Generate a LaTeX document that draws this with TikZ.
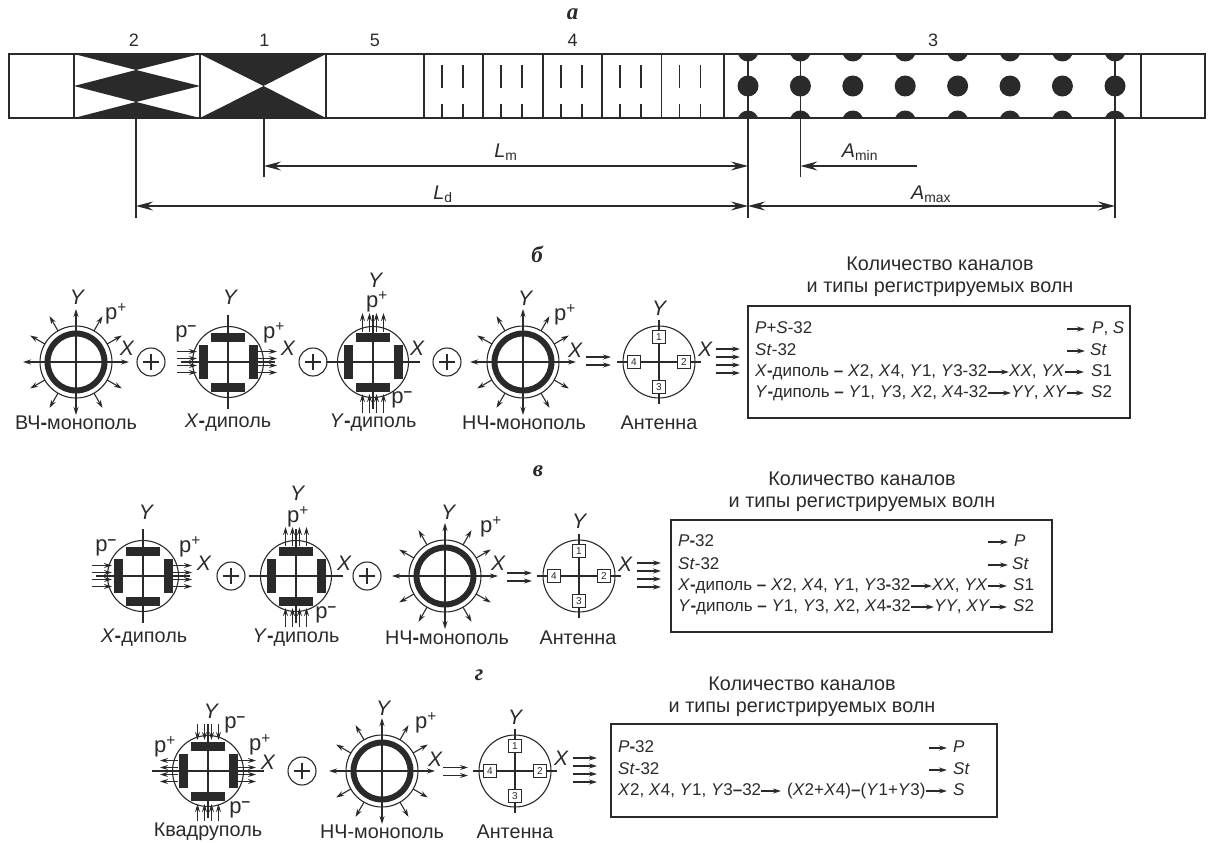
\documentclass[tikz,border=0pt]{standalone}
\usepackage{fontspec}
\setmainfont{Liberation Sans}
\newfontfamily\panelfont{Liberation Serif}
\usetikzlibrary{arrows.meta}
\definecolor{ink}{HTML}{2B2A2A}
\newcommand{\iv}[1]{\textit{#1}}
\newcommand{\bh}{\textbf{-}}
\newcommand{\pp}{p\textsuperscript{+}}
\newcommand{\pn}{p\textsuperscript{\textbf{–}}}
\tikzset{
 ln/.style={draw=ink,line width=1.1pt},
 flow/.style={ln,->,>={Stealth[length=8pt,width=5pt]}},
 dimen/.style={ln,>={Stealth[length=17pt,width=9pt,inset=6pt]}},
 lbl/.style={font=\fontsize{19.8}{20}\selectfont,text=ink,inner sep=0pt},
 axl/.style={font=\fontsize{21}{22}\selectfont\itshape,text=ink,inner sep=0pt},
 pol/.style={font=\fontsize{22}{22}\selectfont,text=ink,inner sep=0pt},
 num/.style={font=\fontsize{18}{18}\selectfont,text=ink,inner sep=0pt},
 panel/.style={font=\fontsize{23}{22}\selectfont\panelfont\bfseries\itshape,text=ink,inner sep=0pt},
 row/.style={font=\fontsize{17}{18}\selectfont,text=ink,inner sep=0pt,text height=12pt,text depth=3.5pt,anchor=west},
 sqr/.style={draw=ink,line width=1.1pt,fill=white,minimum size=12.5pt,inner sep=0pt,font=\fontsize{10}{11}\selectfont,text=ink},
 board/.style={draw=ink,line width=1.2pt},
 monopole/.pic={
  \draw[ln] (0,0) circle (36);
  \draw[draw=ink,line width=6pt] (0,0) circle (28.5);
  \draw[flow,<->] (-53,0) -- (53,0);
  \draw[flow,<->] (0,-53) -- (0,53);
  \foreach \a in {30,60,120,150,210,240,300,330}
   \draw[flow] (\a:36) -- (\a:53);
 },
 dipolecore/.pic={
  \draw[ln] (0,0) circle (35.5);
  \draw[ln] (0,-47) -- (0,47);
  \fill[ink] (-17,-29.5) rectangle (17,-20.5);
  \fill[ink] (-17,20.5) rectangle (17,29.5);
  \fill[ink] (-29.5,-17) rectangle (-20.5,17);
  \fill[ink] (20.5,-17) rectangle (29.5,17);
 },
 xdipole/.pic={
  \pic {dipolecore};
  \draw[ln] (-47,0) -- (47,0);
  \foreach \d in {-10.5,-3.5,3.5,10.5} {
   \draw[flow] (-51,\d) -- (-31,\d);
   \draw[flow] (30,\d) -- (49,\d);
  }
 },
 ydipole/.pic={
  \pic {dipolecore};
  \draw[ln] (-47,0) -- (47,0);
  \foreach \d in {-10.5,-3.5,3.5,10.5} {
   \draw[flow] (\d,-30) -- (\d,-49);
   \draw[flow] (\d,51) -- (\d,32);
  }
 },
 quadrupole/.pic={
  \pic {dipolecore};
  \draw[ln] (-56,0) -- (56,0);
  \foreach \d in {-10.5,-3.5,3.5,10.5} {
   \draw[flow] (-30,\d) -- (-48,\d);
   \draw[flow] (30,\d) -- (48,\d);
   \draw[flow] (\d,-47) -- (\d,-31);
   \draw[flow] (\d,50) -- (\d,33);
  }
 },
 antenna/.pic={
  \draw[ln] (0,0) circle (36);
  \draw[ln] (-42,0) -- (42,0);
  \draw[ln] (0,-42) -- (0,42);
  \node[sqr] (-s1) at (0,-25) {1};
  \node[sqr] (-s2) at (25,0) {2};
  \node[sqr] (-s3) at (0,25) {3};
  \node[sqr] (-s4) at (-25,0) {4};
 },
 summer/.pic={
  \draw[ln] (0,0) circle (14);
  \draw[ln] (-8,0) -- (8,0);
  \draw[ln] (0,-8) -- (0,8);
 },
 twoflow/.pic={
  \foreach \d in {-4,4} \draw[flow] (0,\d) -- (25,\d);
 },
 fourflow/.pic={
  \foreach \d in {-12,-4,4,12} \draw[flow] (0,\d) -- (24,\d);
 },
}
\begin{document}
\begin{tikzpicture}[x=1pt,y=-1pt]
\useasboundingbox (0,0) rectangle (1213,843);
\node[panel] (pa) at (572.5,14) {а};
\node[num] (n2) at (134,40) {2};
\node[num] (n1) at (264.5,40) {1};
\node[num] (n5) at (375,40) {5};
\node[num] (n4) at (572.5,40) {4};
\node[num] (n3) at (933,40) {3};
\fill[ink] (74,54) -- (200,54) -- (136,70) -- cycle;
\fill[ink] (74,86) -- (136,70) -- (200,86) -- (136,102) -- cycle;
\fill[ink] (74,118) -- (200,118) -- (136,102) -- cycle;
\fill[ink] (200,54) -- (326,54) -- (263.5,86) -- cycle;
\fill[ink] (200,118) -- (326,118) -- (263.5,86) -- cycle;
\begin{scope}
\clip (724,54) rectangle (1141,118);
\foreach \cx in {748,800.4,852.8,905.2,957.6,1010,1062.4,1115}
 \foreach \cy in {51,86,121}
  \fill[ink] (\cx,\cy) circle (10.5);
\end{scope}
\draw[ln,line width=1.2pt] (9,54) rectangle (1205,118);
\foreach \bx in {74,200,326,424,483,543,602,661.5,724,1141}
 \draw[ln] (\bx,54) -- (\bx,118);
\foreach \bx in {424,483,543,602,661.5}
 \foreach \tx in {18,39} {
  \draw[ln] (\bx+\tx,65) -- (\bx+\tx,88);
  \draw[ln] (\bx+\tx,104) -- (\bx+\tx,118);
 }
\foreach \nm/\cx/\ty/\cy in {gd/136/118/218,gm/264/118/177,gz/748/54/218,gn/800.4/54/177,gx/1115/54/218} {
 \coordinate (\nm t) at (\cx,\ty);
 \coordinate (\nm b) at (\cx,\cy);
 \draw[ln] (\nm t) -- (\nm b);
}
\coordinate (lm1) at (748,166);
\coordinate (lm2) at (264,166);
\coordinate (ld1) at (748,206);
\coordinate (ld2) at (136,206);
\coordinate (an1) at (917,166);
\coordinate (an2) at (800.4,166);
\coordinate (ax1) at (1115,206);
\draw[dimen,<->] (lm1) -- (lm2);
\draw[dimen,<->] (ld1) -- (ld2);
\draw[dimen,->] (an1) -- (an2);
\draw[dimen,<->] (ld1) -- (ax1);
\node[lbl] (llm) at (506,152) {\iv{L}\textsubscript{m}};
\node[lbl] (lld) at (443,194) {\iv{L}\textsubscript{d}};
\node[lbl] (lan) at (860,152) {\iv{A}\textsubscript{min}};
\node[lbl] (lax) at (931,194) {\iv{A}\textsubscript{max}};

\node[panel] (pb) at (537,254) {б};
\pic (bm1) at (76,362) {monopole};
\pic (bp1) at (151,362) {summer};
\pic (bx) at (228,362) {xdipole};
\pic (bp2) at (313,362) {summer};
\pic (by) at (373,362) {ydipole};
\pic (bp3) at (447,362) {summer};
\pic (bm2) at (523,362) {monopole};
\pic (bf2) at (586,361) {twoflow};
\pic (ba) at (659,362) {antenna};
\pic (bf4) at (716,361) {fourflow};
\node[axl] (by1) at (77,297) {Y};
\node[pol] (bq1) at (116,314) {\pp};
\node[axl] (bx1) at (127,348) {X};
\node[axl] (by2) at (230,297) {Y};
\node[pol] (bq2) at (186,334) {\pn};
\node[pol] (bq3) at (274,333) {\pp};
\node[axl] (bx2) at (288,348) {X};
\node[axl] (by3) at (375,280) {Y};
\node[pol] (bq4) at (377,302) {\pp};
\node[pol] (bq5) at (402,400) {\pn};
\node[axl] (bx3) at (417,348) {X};
\node[axl] (by4) at (525,298) {Y};
\node[pol] (bq6) at (565,315) {\pp};
\node[axl] (bx4) at (575,350) {X};
\node[axl] (by5) at (659,308) {Y};
\node[axl] (bx5) at (705,349) {X};
\node[lbl] (bt1) at (76,423) {ВЧ\bh монополь};
\node[lbl] (bt2) at (228,423) {\iv{X}\bh диполь};
\node[lbl] (bt3) at (373,423) {\iv{Y}\bh диполь};
\node[lbl] (bt4) at (524,423) {НЧ\bh монополь};
\node[lbl] (bt5) at (659,423) {Антенна};
\node[lbl,align=center] (bh) at (940,277) {Количество каналов\\[2pt]и типы регистрируемых волн};
\draw[board] (748,306) rectangle (1130,418);
\node[row] (bl1) at (755,329) {\iv{P}+\iv{S}-32};
\node[row] (bl2) at (755,351) {\iv{St}-32};
\node[row] (bl3) at (755,372) {\iv{X}\bh диполь \textbf{–} \iv{X}2, \iv{X}4, \iv{Y}1, \iv{Y}3-32};
\node[row] (bl4) at (755,393) {\iv{Y}\bh диполь \textbf{–} \iv{Y}1, \iv{Y}3, \iv{X}2, \iv{X}4-32};
\node[row] (bm3) at (1009,372) {\iv{XX}, \iv{YX}};
\node[row] (bm4) at (1011,393) {\iv{YY}, \iv{XY}};
\node[row] (be1) at (1092,329) {\iv{P}, \iv{S}};
\node[row] (be2) at (1090,351) {\iv{St}};
\node[row] (be3) at (1091,372) {\iv{S}1};
\node[row] (be4) at (1091,393) {\iv{S}2};
\coordinate (bo1) at (1067,329);
\coordinate (bo2) at (1067,351);
\draw[flow,shorten >=7pt] (bo1) -- (be1.west);
\draw[flow,shorten >=5pt] (bo2) -- (be2.west);
\draw[flow] (bl3.east) -- (bm3.west);
\draw[flow] (bl4.east) -- (bm4.west);
\draw[flow,shorten >=7pt] (bm3.east) -- (be3.west);
\draw[flow,shorten >=7pt] (bm4.east) -- (be4.west);

\node[panel] (pc) at (538,471) {в};
\pic (cx) at (143,576) {xdipole};
\pic (cp1) at (231,576) {summer};
\pic (cy) at (296,576) {ydipole};
\pic (cp2) at (367,576) {summer};
\pic (cm) at (445,576) {monopole};
\pic (cf2) at (507,577) {twoflow};
\pic (ca) at (579,576) {antenna};
\pic (cf4) at (637,575) {fourflow};
\node[axl] (cy1) at (146,512) {Y};
\node[pol] (cq1) at (106,548) {\pn};
\node[pol] (cq2) at (190,547) {\pp};
\node[axl] (cx1) at (204,563) {X};
\node[axl] (cy2) at (297,493) {Y};
\node[pol] (cq3) at (298,517) {\pp};
\node[pol] (cq4) at (326,615) {\pn};
\node[axl] (cx2) at (344,563) {X};
\node[axl] (cy3) at (448,512) {Y};
\node[pol] (cq5) at (491,527) {\pp};
\node[axl] (cx3) at (498,563) {X};
\node[axl] (cy4) at (579,521) {Y};
\node[axl] (cx4) at (625,564) {X};
\node[lbl] (ct1) at (144,638) {\iv{X}\bh диполь};
\node[lbl] (ct2) at (296,638) {\iv{Y}\bh диполь};
\node[lbl] (ct3) at (447,638) {НЧ\bh монополь};
\node[lbl] (ct4) at (578,638) {Антенна};
\node[lbl,align=center] (ch) at (862,492) {Количество каналов\\[2pt]и типы регистрируемых волн};
\draw[board] (671,520) rectangle (1052,632);
\node[row] (cl1) at (678,542) {\iv{P}\bh 32};
\node[row] (cl2) at (678,565) {\iv{St}-32};
\node[row] (cl3) at (678,586) {\iv{X}\bh диполь \textbf{–} \iv{X}2, \iv{X}4, \iv{Y}1, \iv{Y}3\bh 32};
\node[row] (cl4) at (678,607) {\iv{Y}\bh диполь \textbf{–} \iv{Y}1, \iv{Y}3, \iv{X}2, \iv{X}4\bh 32};
\node[row] (cm3) at (932,586) {\iv{XX}, \iv{YX}};
\node[row] (cm4) at (934,607) {\iv{YY}, \iv{XY}};
\node[row] (ce1) at (1014,542) {\iv{P}};
\node[row] (ce2) at (1012,565) {\iv{St}};
\node[row] (ce3) at (1013,586) {\iv{S}1};
\node[row] (ce4) at (1013,607) {\iv{S}2};
\coordinate (co1) at (988,542);
\coordinate (co2) at (988,565);
\draw[flow,shorten >=6pt] (co1) -- (ce1.west);
\draw[flow,shorten >=4pt] (co2) -- (ce2.west);
\draw[flow] (cl3.east) -- (cm3.west);
\draw[flow] (cl4.east) -- (cm4.west);
\draw[flow,shorten >=6pt] (cm3.east) -- (ce3.west);
\draw[flow,shorten >=6pt] (cm4.east) -- (ce4.west);

\node[panel] (pd) at (479,675) {г};
\pic (dq) at (208,771) {quadrupole};
\pic (dp) at (302,771) {summer};
\pic (dm) at (382,771) {monopole};
\pic (df2) at (443,771.5) {twoflow};
\pic (da) at (515,771) {antenna};
\pic (df4) at (573,770) {fourflow};
\node[axl] (dy1) at (211,711) {Y};
\node[pol] (dq1) at (235,725) {\pn};
\node[pol] (dq2) at (260,745) {\pp};
\node[axl] (dx1) at (268,762) {X};
\node[pol] (dq3) at (165,747) {\pp};
\node[pol] (dq4) at (240,810) {\pn};
\node[axl] (dy2) at (383,708) {Y};
\node[pol] (dq5) at (426,723) {\pp};
\node[axl] (dx2) at (435,759) {X};
\node[axl] (dy3) at (515,717) {Y};
\node[axl] (dx3) at (561,758) {X};
\node[lbl] (dt1) at (208,832) {Квадруполь};
\node[lbl] (dt2) at (382,832) {НЧ-монополь};
\node[lbl] (dt3) at (515,832) {Антенна};
\node[lbl,align=center] (dh) at (802,697) {Количество каналов\\[2pt]и типы регистрируемых волн};
\draw[board] (611,724) rectangle (997,817);
\node[row] (dl1) at (618,748) {\iv{P}\bh 32};
\node[row] (dl2) at (618,770) {\iv{St}-32};
\node[row] (dl3) at (618,791) {\iv{X}2, \iv{X}4, \iv{Y}1, \iv{Y}3\textbf{–}32};
\node[row] (dm3) at (787,791) {(\iv{X}2+\iv{X}4)\textbf{–}(\iv{Y}1+\iv{Y}3)};
\node[row] (de1) at (953,748) {\iv{P}};
\node[row] (de2) at (953,770) {\iv{St}};
\node[row] (de3) at (953,791) {\iv{S}};
\coordinate (do1) at (929,748);
\coordinate (do2) at (929,770);
\draw[flow,shorten >=6pt] (do1) -- (de1.west);
\draw[flow,shorten >=6pt] (do2) -- (de2.west);
\draw[flow,shorten >=6pt] (dl3.east) -- (dm3.west);
\draw[flow,shorten >=6pt] (dm3.east) -- (de3.west);
\end{tikzpicture}
\end{document}
